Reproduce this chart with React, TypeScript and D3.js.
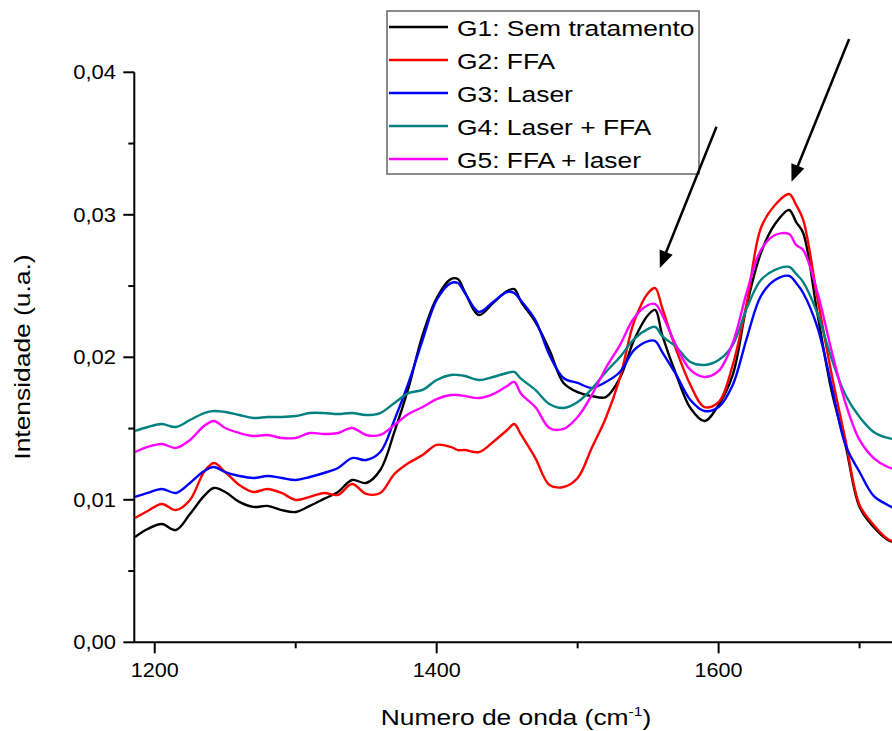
import React from 'react';
import * as d3 from 'd3';

// wavenumber (cm-1) grid the spectra were read at
const wavenumbers = [
  1186, 1195, 1205, 1215, 1225, 1235, 1242, 1250, 1260, 1270,
  1280, 1290, 1300, 1310, 1320, 1330, 1340, 1350, 1360, 1370,
  1380, 1390, 1400, 1410, 1415, 1420, 1430, 1440, 1450, 1455,
  1460, 1470, 1480, 1490, 1500, 1510, 1520, 1530, 1540, 1550,
  1555, 1560, 1570, 1580, 1590, 1600, 1610, 1620, 1630, 1640,
  1650, 1655, 1660, 1670, 1680, 1690, 1700, 1710, 1720, 1725,
];

const g1 = [
  0.00739, 0.00795, 0.0083, 0.00788, 0.009, 0.01027, 0.01083, 0.01055, 0.00985, 0.0095,
  0.00957, 0.00928, 0.00914, 0.00957, 0.01006, 0.01055, 0.01139, 0.01118, 0.01209, 0.01476,
  0.01785, 0.02156, 0.02416, 0.02549, 0.02549, 0.02458, 0.02297, 0.02381, 0.02465, 0.02479,
  0.02388, 0.02248, 0.02051, 0.0182, 0.01756, 0.01728, 0.01721, 0.01855, 0.02121, 0.02297,
  0.02332, 0.02156, 0.01876, 0.01644, 0.01553, 0.01665, 0.01876, 0.02367, 0.02732, 0.02935,
  0.03034, 0.02949, 0.02872, 0.02311, 0.01771, 0.01385, 0.00949, 0.00809, 0.00718, 0.007,
];
const g2 = [
  0.00872, 0.00921, 0.00971, 0.00928, 0.00999, 0.01195, 0.01258, 0.01195, 0.01104, 0.01055,
  0.01076, 0.01048, 0.00999, 0.0102, 0.01048, 0.01034, 0.01111, 0.01041, 0.01048, 0.01181,
  0.01258, 0.01314, 0.01385, 0.01371, 0.01349, 0.01349, 0.01335, 0.01406, 0.0149, 0.01532,
  0.01455, 0.01293, 0.01104, 0.0109, 0.01153, 0.01364, 0.01574, 0.01855, 0.02248, 0.02451,
  0.02486, 0.02346, 0.02051, 0.01806, 0.01651, 0.01686, 0.01946, 0.02381, 0.02907, 0.03069,
  0.03146, 0.03069, 0.02964, 0.02423, 0.0189, 0.0142, 0.00964, 0.00823, 0.00725, 0.00705,
];
const g3 = [
  0.0102, 0.01048, 0.01076, 0.01048, 0.01118, 0.01202, 0.0123, 0.01195, 0.01167, 0.01153,
  0.01167, 0.01153, 0.01139, 0.0116, 0.01188, 0.01223, 0.01293, 0.01279, 0.01335, 0.0156,
  0.0182, 0.02121, 0.02402, 0.02521, 0.02521, 0.02451, 0.02318, 0.02388, 0.02458, 0.02451,
  0.02395, 0.02262, 0.02016, 0.01855, 0.0182, 0.01785, 0.01827, 0.01897, 0.02051, 0.02114,
  0.02114, 0.02037, 0.01876, 0.017, 0.01623, 0.01651, 0.01806, 0.02135, 0.0243, 0.02542,
  0.02571, 0.02521, 0.02451, 0.02213, 0.01806, 0.01385, 0.01195, 0.01027, 0.00964, 0.0094,
];
const g4 = [
  0.01483, 0.01511, 0.01532, 0.01511, 0.0156, 0.01609, 0.01623, 0.01616, 0.01595, 0.01574,
  0.01581, 0.01581, 0.01588, 0.01609, 0.01609, 0.01602, 0.01609, 0.01595, 0.01609, 0.01679,
  0.01749, 0.01771, 0.01841, 0.01876, 0.01876, 0.01869, 0.01841, 0.01862, 0.0189, 0.01897,
  0.01848, 0.01771, 0.01672, 0.01644, 0.01686, 0.01778, 0.01897, 0.02002, 0.02128, 0.02199,
  0.02213, 0.02149, 0.02072, 0.01967, 0.01946, 0.01981, 0.02086, 0.02346, 0.02542, 0.02613,
  0.02634, 0.02585, 0.02528, 0.02311, 0.01995, 0.01735, 0.01581, 0.01476, 0.01434, 0.01425,
];
const g5 = [
  0.01335, 0.01371, 0.01392, 0.01364, 0.0142, 0.01518, 0.01553, 0.01504, 0.01469, 0.01448,
  0.01455, 0.01434, 0.01434, 0.01469, 0.01462, 0.01469, 0.01504, 0.01455, 0.01455, 0.01525,
  0.01602, 0.01651, 0.01707, 0.01735, 0.01735, 0.01728, 0.01714, 0.01742, 0.01799, 0.01827,
  0.01742, 0.01651, 0.01504, 0.01497, 0.01581, 0.01735, 0.01925, 0.02086, 0.02276, 0.02367,
  0.02374, 0.02297, 0.02079, 0.01911, 0.01862, 0.01904, 0.021, 0.02458, 0.02753, 0.02858,
  0.02865, 0.02788, 0.02753, 0.02458, 0.02051, 0.01679, 0.0142, 0.01293, 0.0123, 0.01215,
];

const seriesNames = ['G1: Sem tratamento', 'G2: FFA', 'G3: Laser', 'G4: Laser + FFA', 'G5: FFA + laser'];
const seriesValues = [g1, g2, g3, g4, g5];
const seriesColors = ['#000000', '#ff0000', '#0000ff', '#008080', '#ff00ff'];

const xTicks = [1200, 1400, 1600];
const xMinorTicks = [1300, 1500, 1700];
const yTicks = [0, 0.01, 0.02, 0.03, 0.04];
const yMinorTicks = [0.005, 0.015, 0.025, 0.035];

// arrows pointing at the two bands, in data units [wavenumber, intensity]
const arrowStarts = [[1598.5, 0.03618], [1692.6, 0.04234]];
const arrowTips = [[1558.3, 0.02627], [1651.7, 0.03232]];

const W = 892;
const H = 731;
const FONT = '"Liberation Sans", Arial, sans-serif';

const fmt = d3.formatLocale({ decimal: ',', thousands: '.', grouping: [3], currency: ['', ''] }).format('.2f');

// text that is a little wider than the font (the original export is stretched)
const Wide = ({ x, y, sx = 1.2, rotate = 0, anchor = 'start', size = 22, children }: any) => (
  <text
    transform={`translate(${x},${y}) rotate(${rotate}) scale(${sx},1)`}
    textAnchor={anchor}
    fontSize={size}
    fontFamily={FONT}
    fill="#000"
  >
    {children}
  </text>
);

const App = () => {
  const left = 134.3, right = 892, top = 72.3, bottom = 642.3;
  const x = d3.scaleLinear().domain([1185.5, 1723]).range([left, right]);
  const y = d3.scaleLinear().domain([0, 0.04]).range([bottom, top]);

  const line = d3
    .line<number>()
    .x((_, i) => x(wavenumbers[i]))
    .y((d) => y(d))
    .curve(d3.curveCatmullRom.alpha(0.5));

  const makeArrow = (i: number) => {
    const [x0, y0] = [x(arrowStarts[i][0]), y(arrowStarts[i][1])];
    const [x1, y1] = [x(arrowTips[i][0]), y(arrowTips[i][1])];
    const len = Math.hypot(x1 - x0, y1 - y0);
    const ux = (x1 - x0) / len, uy = (y1 - y0) / len;
    const L = 17, w = 7;
    const bx = x1 - ux * L, by = y1 - uy * L;
    const pts = [
      [x1, y1],
      [bx - uy * w, by + ux * w],
      [bx + uy * w, by - ux * w],
    ];
    return (
      <g key={'arrow' + i}>
        <line x1={x0} y1={y0} x2={bx + ux * 2} y2={by + uy * 2} stroke="#000" strokeWidth={2.5} />
        <polygon points={pts.map((p) => p.join(',')).join(' ')} fill="#000" />
      </g>
    );
  };

  const legendX = 387, legendY = 11, legendW = 312, legendH = 163, rowH = 33;

  return (
    <svg width={W} height={H} style={{ position: 'absolute', left: 0, top: 0, background: '#fff' }}>
      <defs>
        <clipPath id="plot">
          <rect x={left} y={top - 10} width={right - left} height={bottom - top + 10} />
        </clipPath>
      </defs>

      {/* spectra */}
      <g clipPath="url(#plot)">
        {seriesValues.map((vals, i) => (
          <path key={i} d={line(vals) || ''} fill="none" stroke={seriesColors[i]} strokeWidth={2.4} strokeLinejoin="round" />
        ))}
      </g>

      {/* axes */}
      <line x1={left} x2={right} y1={bottom} y2={bottom} stroke="#000" strokeWidth={2} />
      <line x1={left} x2={left} y1={top} y2={bottom} stroke="#000" strokeWidth={2} />
      {xTicks.map((t) => (
        <g key={'xt' + t}>
          <line x1={x(t)} x2={x(t)} y1={bottom} y2={bottom + 11} stroke="#000" strokeWidth={2} />
          <Wide x={x(t)} y={677} sx={1.08} size={20} anchor="middle">{t}</Wide>
        </g>
      ))}
      {xMinorTicks.map((t) => (
        <line key={'xm' + t} x1={x(t)} x2={x(t)} y1={bottom} y2={bottom + 6} stroke="#000" strokeWidth={2} />
      ))}
      {yTicks.map((t) => (
        <g key={'yt' + t}>
          <line x1={left - 11} x2={left} y1={y(t)} y2={y(t)} stroke="#000" strokeWidth={2} />
          <Wide x={116} y={y(t) + 7} sx={1.1} size={20} anchor="end">{fmt(t)}</Wide>
        </g>
      ))}
      {yMinorTicks.map((t) => (
        <line key={'ym' + t} x1={left - 6} x2={left} y1={y(t)} y2={y(t)} stroke="#000" strokeWidth={2} />
      ))}

      {/* axis titles */}
      <text
        transform={`translate(516,725) scale(1.2,1)`}
        textAnchor="middle"
        fontSize={22}
        fontFamily={FONT}
      >
        Numero de onda (cm<tspan dy={-9} fontSize={13}>-1</tspan>
        <tspan dy={9}>)</tspan>
      </text>
      <Wide x={30} y={357} rotate={-90} anchor="middle">Intensidade (u.a.)</Wide>

      {/* legend */}
      <rect x={legendX} y={legendY} width={legendW} height={legendH} fill="#fff" stroke="#666" strokeWidth={1.5} />
      {seriesNames.map((name, i) => {
        const ry = legendY + 16 + i * rowH;
        return (
          <g key={'lg' + i}>
            <line x1={legendX + 2} x2={legendX + 61} y1={ry} y2={ry} stroke={seriesColors[i]} strokeWidth={2.4} />
            <Wide x={legendX + 70} y={ry + 9}>{name}</Wide>
          </g>
        );
      })}

      {/* arrows */}
      {arrowStarts.map((_, i) => makeArrow(i))}
    </svg>
  );
};

export default App;
